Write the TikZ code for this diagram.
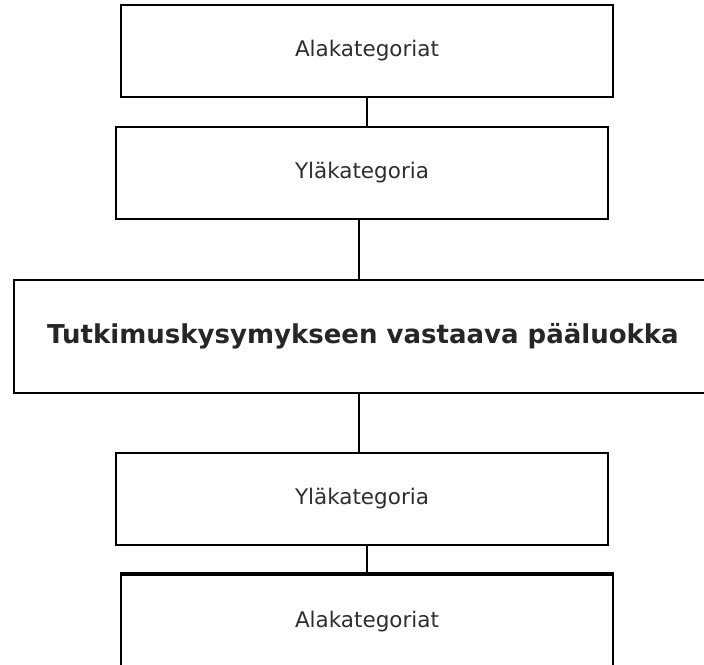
\documentclass[tikz,border=0pt]{standalone}
\usepackage{fontspec}
\setmainfont{DejaVu Sans}
\begin{document}
\begin{tikzpicture}[x=1pt,y=-1pt,
  catbox/.style={draw=black, line width=2.5pt, minimum width=492pt, minimum height=92pt, inner sep=0pt, text=black!82, font=\fontsize{21.5}{25}\selectfont},
  mainbox/.style={draw=black, line width=2.5pt, minimum width=698pt, minimum height=113pt, inner sep=0pt, text=black!85, font=\fontsize{26}{30}\selectfont\bfseries},
  link/.style={draw=black, line width=2.5pt}]
\useasboundingbox (0,0) rectangle (704,664);
\node[catbox] (a1) at (367,51) {Alakategoriat};
\node[catbox] (y1) at (362,173) {Yläkategoria};
\node[mainbox] (m) at (363,336.5) {Tutkimuskysymykseen vastaava pääluokka};
\node[catbox] (y2) at (362,499) {Yläkategoria};
\node[catbox, minimum height=94pt] (a2) at (367,622) {Alakategoriat};
\draw[line width=3.5pt] (a2.north west) -- (a2.north east);
\draw[link] (a1.south) -- (a1.south |- y1.north);
\draw[link] ([xshift=-3pt]y1.south) -- ([xshift=-3pt]y1.south |- m.north);
\draw[link] ([xshift=-3pt]y2.north) -- ([xshift=-3pt]y2.north |- m.south);
\draw[link] (a2.north) -- (a2.north |- y2.south);
\end{tikzpicture}
\end{document}
